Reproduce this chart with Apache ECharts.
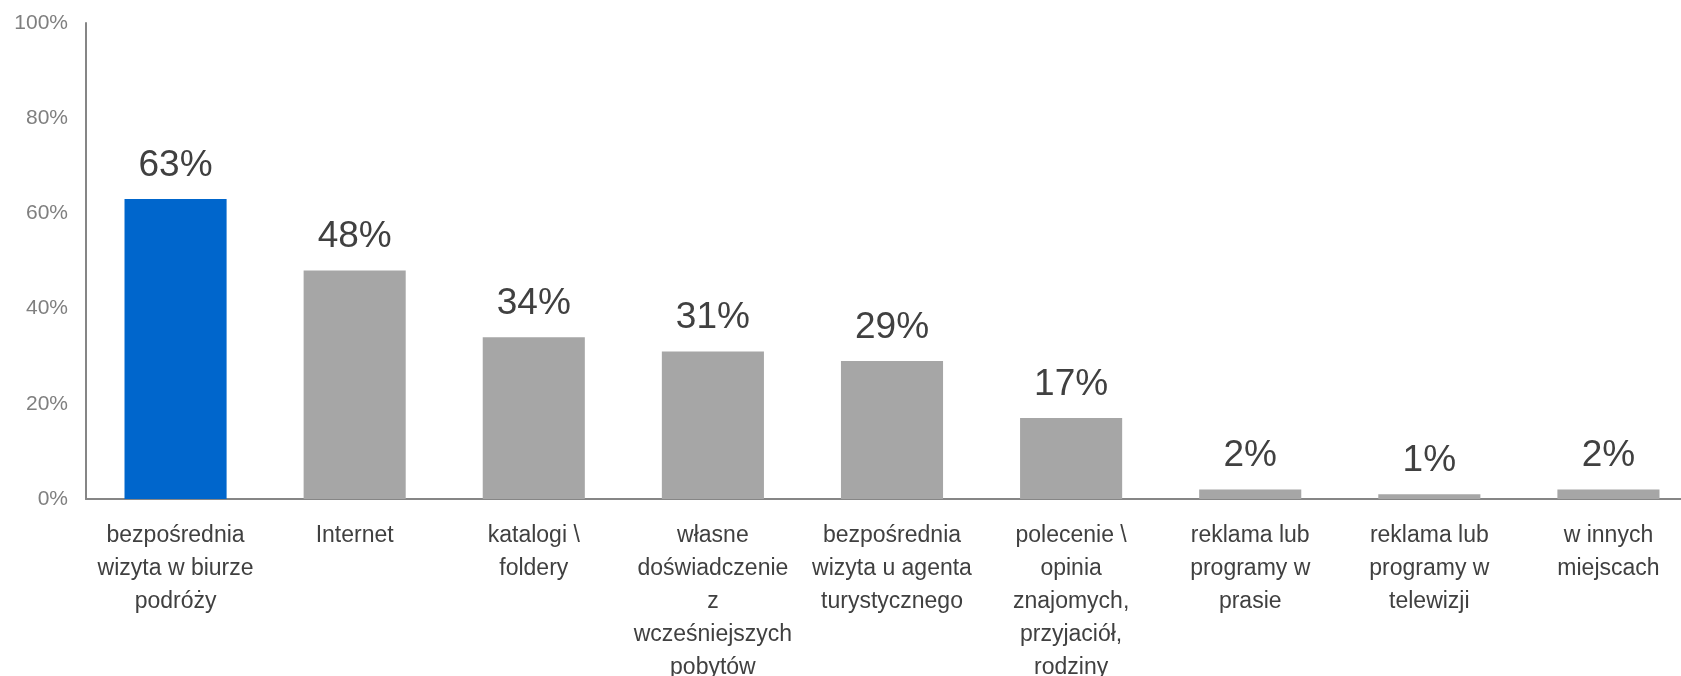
<!DOCTYPE html>
<html>
<head>
<meta charset="utf-8">
<script src="https://cdn.jsdelivr.net/npm/echarts@6/dist/echarts.min.js"></script>
<style>
	html, body { margin: 0; padding: 0; background: #ffffff; }
	#chart { width: 1681px; height: 676px; }
</style>
</head>
<body>
<div id="chart"></div>
<script>
	var categories = [
		'bezpośrednia\nwizyta w biurze\npodróży',
		'Internet',
		'katalogi \\\nfoldery',
		'własne\ndoświadczenie\nz\nwcześniejszych\npobytów',
		'bezpośrednia\nwizyta u agenta\nturystycznego',
		'polecenie \\\nopinia\nznajomych,\nprzyjaciół,\nrodziny',
		'reklama lub\nprogramy w\nprasie',
		'reklama lub\nprogramy w\ntelewizji',
		'w innych\nmiejscach'
	];
	var values = [63, 48, 34, 31, 29, 17, 2, 1, 2];
	var highlightIndex = 0;

	var chart = echarts.init(document.getElementById('chart'));
	var font = 'Liberation Sans, Arial, sans-serif';

	var option = {
		animation: false,
		grid: {
			left: 86,
			right: -17,
			top: 23,
			bottom: 177,
			outerBoundsMode: 'none'
		},
		xAxis: {
			type: 'category',
			data: categories,
			axisLine: { lineStyle: { color: '#868686', width: 2 } },
			axisTick: { show: false },
			axisLabel: {
				interval: 0,
				margin: 20,
				color: '#404040',
				fontSize: 23,
				lineHeight: 33,
				fontFamily: font
			}
		},
		yAxis: {
			type: 'value',
			min: 0,
			max: 100,
			interval: 20,
			axisLine: { show: true, lineStyle: { color: '#868686', width: 2 } },
			axisTick: { show: false },
			splitLine: { show: false },
			axisLabel: {
				margin: 18,
				color: '#7f7f7f',
				fontSize: 21,
				fontFamily: font,
				formatter: '{value}%'
			}
		},
		series: [
			{
				type: 'bar',
				barCategoryGap: '43%',
				data: values.map(function (v, i) {
					return {
						value: v,
						itemStyle: { color: i === highlightIndex ? '#0066cc' : '#a6a6a6' }
					};
				}),
				label: {
					show: true,
					position: 'top',
					distance: 15,
					color: '#404040',
					fontSize: 37,
					fontFamily: font,
					formatter: '{c}%'
				}
			}
		]
	};
	chart.setOption(option);
</script>
</body>
</html>
